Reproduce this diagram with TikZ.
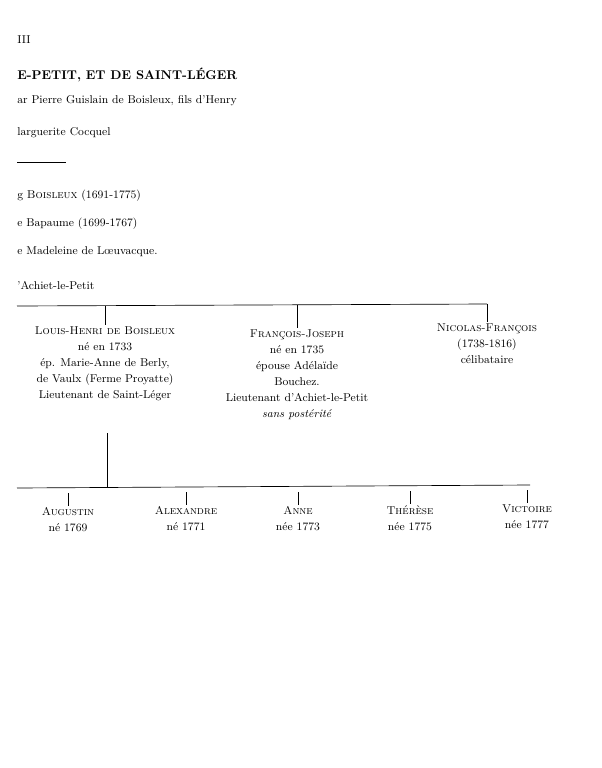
\documentclass[tikz,border=0pt]{standalone}
\usetikzlibrary{positioning}
\tikzset{
  person/.style={align=center, font=\fontsize{8.5}{12}\selectfont, inner sep=1pt, anchor=north},
  textline/.style={anchor=west, font=\fontsize{8.5}{10}\selectfont, inner sep=0pt},
  bar/.style={line width=0.5pt}
}
\begin{document}
\begin{tikzpicture}[x=0.75pt, y=-0.75pt]
    \useasboundingbox (0,0) rectangle (602,768);

    % Page header and text
    \node[textline] (page) at (17,40) {III};
    \node[textline, font=\bfseries\fontsize{9.5}{11}\selectfont] (title) at (17,75) {E-PETIT, ET DE SAINT-LÉGER};
    \node[textline] (l1) at (17,101) {ar Pierre Guislain de Boisleux, fils d'Henry};
    \node[textline] (l2) at (17,133) {larguerite Cocquel};
    \draw (17,162) -- (66,162);
    \node[textline] (l3) at (17,196) {g \textsc{Boisleux} (1691-1775)};
    \node[textline] (l4) at (17,224) {e Bapaume (1699-1767)};
    \node[textline] (l5) at (17,252) {e Madeleine de Lœuvacque.};
    \node[textline] (l6) at (17,285) {'Achiet-le-Petit};

    % First generation
    \coordinate (topL) at (17,306);
    \coordinate (topR) at (487,304);
    \draw[bar] (topL) -- (topR);

    \node[person] (louis) at (105,325) {\textsc{Louis-Henri de Boisleux}\\né en 1733\\ép. Marie-Anne de Berly,\\de Vaulx (Ferme Proyatte)\\Lieutenant de Saint-Léger};
    \node[person] (francois) at (297,328) {\textsc{François-Joseph}\\né en 1735\\épouse Adélaïde\\Bouchez.\\Lieutenant d'Achiet-le-Petit\\\textit{sans postérité}};
    \node[person] (nicolas) at (487,322) {\textsc{Nicolas-François}\\(1738-1816)\\célibataire};

    \draw[bar] (105,306) -- (louis.north);
    \draw[bar] (297,305) -- (francois.north);
    \draw[bar] (topR) -- (nicolas.north);

    % Second generation
    \coordinate (botL) at (17,488);
    \coordinate (botR) at (530,485);
    \draw[bar] (botL) -- (botR);
    \draw[bar] (107,433) -- (107,487);

    \foreach \x/\y/\name/\who/\born in
      {68/488/augustin/Augustin/né 1769,
       186/487/alexandre/Alexandre/né 1771,
       298/487/anne/Anne/née 1773,
       410/486/therese/Thérèse/née 1775,
       527/485/victoire/Victoire/née 1777}
    {
      \node[person] (\name) at (\x,\y+18) {\textsc{\who}\\\born};
      \draw[bar] (\x,\y+5) -- (\name.north);
    }
\end{tikzpicture}
\end{document}
